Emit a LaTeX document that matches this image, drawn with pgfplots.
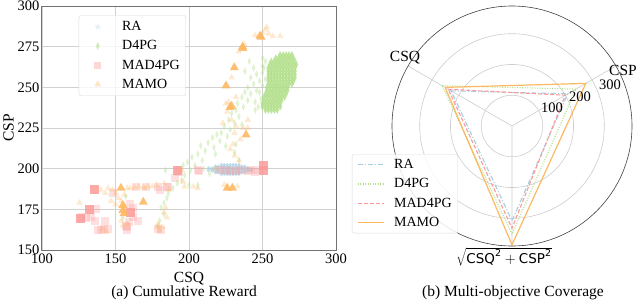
\documentclass[border=0pt]{standalone}
\usepackage{fontspec}
\setmainfont{Liberation Serif}
\newfontfamily\dejavu{DejaVu Sans}
\usepackage{pgfplots}
\pgfplotsset{compat=1.18}
\usepgfplotslibrary{polar}
\definecolor{cRA}{HTML}{A6CEE3}
\definecolor{cD4}{HTML}{B2DF8A}
\definecolor{cMAD}{HTML}{FB9A99}
\definecolor{cMAMO}{HTML}{FDB863}
\begin{document}
\begin{tikzpicture}[x=1pt,y=1pt]
\useasboundingbox (0,0) rectangle (640,301);
\begin{axis}[at={(42pt,51pt)}, anchor=south west, width=294pt, height=244pt, scale only axis,
  xmin=100, xmax=300, ymin=150, ymax=300,
  xtick={100,150,200,250,300}, ytick={150,175,200,225,250,275,300},
  grid=major, major grid style={black!18, line width=0.7pt},
  axis line style={black!55, line width=1pt},
  tick style={draw=none},
  ticklabel style={font=\fontsize{14.5}{14.5}\selectfont},
  /pgf/number format/assume math mode=true,
  yticklabel style={xshift=1pt},
  xlabel={CSQ}, ylabel={CSP},
  label style={font=\fontsize{15.5}{15.5}\selectfont},
  xlabel style={inner sep=0.5pt, yshift=-5pt}, ylabel style={yshift=-3pt},
  legend cell align=left,
  legend image code/.code={\node[inner sep=0pt, minimum width=37pt, minimum height=6pt, anchor=west] at (0pt,0pt) {}; \draw[#1] plot coordinates {(15pt,0pt)};},
  legend style={at={(0.125,0.962)}, anchor=north west, draw=black!15, rounded corners=2pt,
    fill=white, fill opacity=0.8, text opacity=1, font=\fontsize{14}{14}\selectfont,
    row sep=4.4pt, inner xsep=4pt, inner ysep=4pt},
]
\addlegendimage{only marks, mark=star, mark size=3pt, color=cRA!40, line width=0.8pt}
\addlegendentry{RA}
\addlegendimage{only marks, mark=diamond*, mark size=4pt, color=cD4, mark options={xscale=0.6, fill=cD4, draw opacity=0, fill opacity=0.6}}
\addlegendentry{D4PG}
\addlegendimage{only marks, mark=square*, mark size=3.5pt, color=cMAD, mark options={fill=cMAD, draw opacity=0, fill opacity=0.4}}
\addlegendentry{MAD4PG}
\addlegendimage{only marks, mark=triangle*, mark size=4pt, color=cMAMO, mark options={fill=cMAMO, draw opacity=0, fill opacity=0.35}}
\addlegendentry{MAMO}
% D4PG sparse
\addplot[forget plot, only marks, mark=diamond*, mark size=3.8pt, color=cD4, mark options={xscale=0.6, fill=cD4, draw opacity=0, fill opacity=0.4}] coordinates {
(244,262)(246,258)(242,256)(248,254)(244,252)(240,250)(246,248)(242,246)(238,247)(236,244)
(240,242)(245,241)(233,240)(237,238)(232,236)(229,234)(234,232)(227,230)(231,228)(236,227)
(224,226)(228,224)(222,222)(226,220)(219,221)(216,219)(221,217)(213,216)(208,214)(217,213)
(225,214)(232,215)(211,211)(206,209)(218,209)(202,207)(209,205)(199,204)(204,202)(196,202)
(201,199)(184,199)(197,196)(195,193)(200,190)(206,190)(192,191)(189,188)(186,185)(185,182)
(183,179)(181,176)(183,172)(180,168)(179,165)(155,170)(156,178)(157,183)(241,266)(238,260)
(250,263)(231,210)(234,205)(210,200)(214,197)(248,247)(249,243)(247,238)(245,236)(250,259)
(252,266)(251,262)(250,268)(252,255)(250,251)
};
% D4PG dense
\addplot[forget plot, only marks, mark=diamond*, mark size=3.8pt, color=cD4, mark options={xscale=0.7, fill=cD4, draw opacity=0, fill opacity=0.8}] coordinates {
(262,270)(264,270)(266,270)(268,270)(270,270)
(259,268)(261,268)(263,268)(265,268)(267,268)(269,268)(271,268)
(256,266)(258,266)(260,266)(262,266)(264,266)(266,266)(268,266)(270,266)(272,266)
(255,264)(257,264)(259,264)(261,264)(263,264)(265,264)(267,264)(269,264)(271,264)(273,264)
(254,262)(256,262)(258,262)(260,262)(262,262)(264,262)(266,262)(268,262)(270,262)(272,262)
(254,260)(256,260)(258,260)(260,260)(262,260)(264,260)(266,260)(268,260)(270,260)(272,260)
(254,258)(256,258)(258,258)(260,258)(262,258)(264,258)(266,258)(268,258)(270,258)(272,258)
(254,256)(256,256)(258,256)(260,256)(262,256)(264,256)(266,256)(268,256)(270,256)(272,256)
(254,254)(256,254)(258,254)(260,254)(262,254)(264,254)(266,254)(268,254)(270,254)(271,254)
(254,252)(256,252)(258,252)(260,252)(262,252)(264,252)(266,252)(268,252)(270,252)
(253,250)(255,250)(257,250)(259,250)(261,250)(263,250)(265,250)(267,250)
(253,248)(255,248)(257,248)(259,248)(261,248)(263,248)(265,248)(267,248)
(252,246)(254,246)(256,246)(258,246)(260,246)(262,246)(264,246)(266,246)
(251,244)(253,244)(255,244)(257,244)(259,244)(261,244)(263,244)(265,244)
(251,242)(253,242)(255,242)(257,242)(259,242)(261,242)(263,242)
(250,240)(252,240)(254,240)(256,240)(258,240)(260,240)(262,240)
(250,238)(252,238)(254,238)(256,238)(258,238)(260,238)(262,238)
(252,236)(254,236)(256,236)(258,236)(260,236)
};
% RA
\addplot[forget plot, only marks, mark=*, mark size=1.8pt, color=cRA, mark options={fill=cRA, draw opacity=0, fill opacity=0.65}] coordinates {
(222,196.5)(224,196.5)(226,196.5)(228,196.5)(230,196.5)(232,196.5)(234,196.5)
(218,197.5)(220,197.5)(222,197.5)(224,197.5)(226,197.5)(228,197.5)(230,197.5)(232,197.5)(234,197.5)(236,197.5)(238,197.5)
(216,198.5)(218,198.5)(220,198.5)(222,198.5)(224,198.5)(226,198.5)(228,198.5)(230,198.5)(232,198.5)(234,198.5)(236,198.5)(238,198.5)(240,198.5)
(215,199.5)(217,199.5)(219,199.5)(221,199.5)(223,199.5)(225,199.5)(227,199.5)(229,199.5)(231,199.5)(233,199.5)(235,199.5)(237,199.5)(239,199.5)(241,199.5)
(216,200.5)(218,200.5)(220,200.5)(222,200.5)(224,200.5)(226,200.5)(228,200.5)(230,200.5)(232,200.5)(234,200.5)(236,200.5)(238,200.5)(240,200.5)
(218,201.5)(220,201.5)(222,201.5)(224,201.5)(226,201.5)(228,201.5)(230,201.5)(232,201.5)(234,201.5)(236,201.5)(238,201.5)
(222,202.5)(224,202.5)(226,202.5)(228,202.5)(230,202.5)(232,202.5)(234,202.5)
(213,199)(243,200)(213.5,200.5)(242.5,198.5)
};
% MAD4PG faint
\addplot[forget plot, only marks, mark=square*, mark size=4pt, color=cMAD, mark options={fill=cMAD, draw opacity=0, fill opacity=0.3}] coordinates {
(136,168)(159,167)(165,168)(158,162)(164,188.5)(171,188.5)(179,189)(186,189)(190.5,194)(207,198.5)
(221,199)(232,198.5)(245,198)(206,199)(225,199)(228,198.5)(240,198.5)(185,189)(158,164)(162,170)
(140,162)(142,163)(127,170)(133,170)(162,176)(157,165)(179,163)(181,162)(148,185)(143,168)
(137,175)(247,199)(242,199)(235,199)(180,187)(138,162)(145,163)(130,169.5)(160,178.5)(193,198)
};
% MAD4PG solid
\addplot[forget plot, only marks, mark=square*, mark size=4.5pt, color=cMAD, mark options={fill=cMAD, draw opacity=0, fill opacity=0.85}] coordinates {
(136,187)(132,175)(126,169.5)(160,173)(192.5,199)(250.5,202)(250.5,199)
};
% MAMO faint
\addplot[forget plot, only marks, mark=triangle*, mark size=3.8pt, color=cMAMO, mark options={fill=cMAMO, draw opacity=0, fill opacity=0.3}] coordinates {
(252,285.5)(254,283)(257,281.5)(262,281.5)(250,283.5)(245,282)(253,287)(234,272)(238,276)(229,256)
(232,244)(227,241)(226,235)(229,230)(232,226)(231,222)(228,212)(230,215)(231,208)(234,205)
(235,218)(240,225)(225,240)(223,228)(206,188)(224,190)(233,189)(125.5,179)(140,187)(143,185)
(145,188)(148,187)(150,185)(152,182)(147,180)(150,178)(156,184)(158,188)(160,188)(163,188.5)
(166,189)(169,188.5)(172,189)(175,189)(178,190)(183,191)(186,187)(184,176)(183,173)(185,170)
(178,164)(180,162)(182,164)(179,166)(154,168)(155,165)(158,166)(154,180)(157,176)(170,188)
(141,163)(144,161)(197,189)(196,192)(203,189)(218,200)(195,199)(240,230)(237,225)
};
% MAMO solid
\addplot[forget plot, only marks, mark=triangle*, mark size=5.2pt, color=cMAMO, mark options={fill=cMAMO, draw opacity=0, fill opacity=0.9}] coordinates {
(248.3,281.6)(249,281)(236.5,275)(236.6,274)(230.8,262.2)(225.2,251)(227.9,237.7)(229,238.5)
(238.8,220.8)(226,188.1)(229.5,188.1)(168.9,179.5)(153.7,188.1)(154.9,177.5)(155.8,172.4)(155,174.5)
};
\end{axis}

\begin{polaraxis}[at={(512pt,175pt)}, anchor=center, width=240pt, height=240pt, scale only axis,
  xmin=0, xmax=360, ymin=0, ymax=390,
  xtick={30,150,270}, xticklabels={}, ytick={100,200,300}, yticklabels={},
  grid=major, major grid style={black!20, line width=0.6pt},
  axis line style={black!75, line width=0.6pt},
  y axis line style={draw=none},
  tick style={draw=none},
  clip=false,
  legend cell align=left,
  legend style={at={(-0.167,0.383)}, anchor=north west, draw=black!15, rounded corners=2pt,
    fill=white, fill opacity=0.85, text opacity=1, font=\fontsize{14}{14}\selectfont,
    row sep=4.6pt, inner xsep=4pt, inner ysep=3pt},
  legend image code/.code={\node[inner sep=0pt, minimum width=36pt, minimum height=4pt, anchor=west] at (0pt,0pt) {}; \draw[#1] (2pt,0pt) -- (28pt,0pt);},
]
\addplot[cRA, line width=1.1pt, dash pattern=on 5pt off 2pt on 1pt off 2pt] coordinates {(150,229) (30,209) (270,308) (150,229)};
\addlegendentry{RA}
\addplot[cD4, line width=1.1pt, dash pattern=on 1pt off 1.5pt] coordinates {(150,262) (30,240) (270,352) (150,262)};
\addlegendentry{D4PG}
\addplot[cMAD, line width=1.1pt, dash pattern=on 4pt off 2pt] coordinates {(150,239) (30,200) (270,332) (150,239)};
\addlegendentry{MAD4PG}
\addplot[cMAMO, line width=1.2pt] coordinates {(150,251) (30,277) (270,386) (150,251)};
\addlegendentry{MAMO}
\end{polaraxis}

\node[font=\fontsize{14.5}{14.5}\selectfont] at (552,193) {100};
\node[font=\fontsize{14.5}{14.5}\selectfont] at (580,204) {200};
\node[font=\fontsize{14.5}{14.5}\selectfont] at (610,216) {300};
\node[font=\fontsize{15.5}{15.5}\selectfont] at (405,243) {CSQ};
\node[font=\fontsize{15.5}{15.5}\selectfont] at (623,231) {CSP};
\node[font=\fontsize{13.5}{13.5}\dejavu] at (504,44) {$\sqrt{\hbox{\dejavu CSQ}^{\hbox{\fontsize{9.5}{9.5}\dejavu 2}}+\hbox{\dejavu CSP}^{\hbox{\fontsize{9.5}{9.5}\dejavu 2}}}$};
\node[font=\fontsize{15.5}{15.5}\selectfont, inner sep=0pt] at (184,8.5) {(a) Cumulative Reward};
\node[font=\fontsize{15.5}{15.5}\selectfont, inner sep=0pt] at (513,8.5) {(b) Multi-objective Coverage};
\end{tikzpicture}
\end{document}
